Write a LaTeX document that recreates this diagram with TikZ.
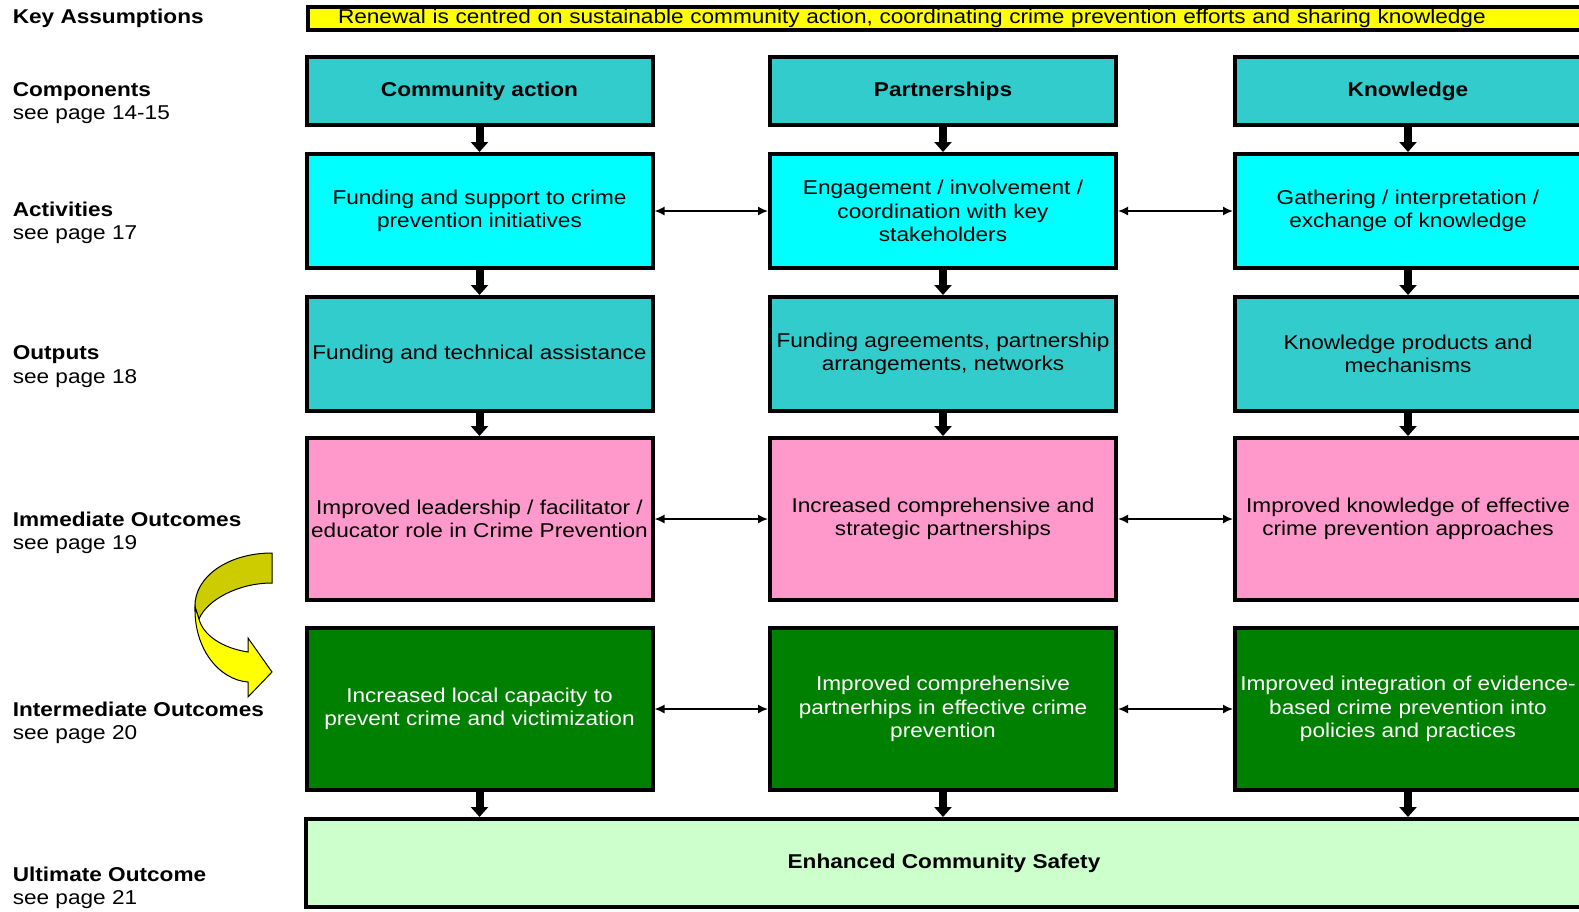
\documentclass[tikz,border=0pt]{standalone}
\usepackage{fontspec}
\setmainfont[FakeStretch=1.13]{Liberation Sans}
\usepackage{tikz}
\usetikzlibrary{arrows.meta}
\usetikzlibrary{positioning}
\definecolor{keyyellow}{HTML}{FFFF00}
\definecolor{compteal}{HTML}{33CCCC}
\definecolor{actcyan}{HTML}{00FFFF}
\definecolor{immpink}{HTML}{FF99CC}
\definecolor{intgreen}{HTML}{008000}
\definecolor{ultgreen}{HTML}{CCFFCC}
\definecolor{ribbondark}{HTML}{CCCC00}
\tikzset{every picture/.style={line width=0.8pt},
  box/.style={draw, line width=2pt, minimum width=173pt, inner sep=2pt, align=center, font=\fontsize{10}{11.6}\selectfont},
  rowlabel/.style={anchor=west, align=left, inner sep=0pt, font=\fontsize{10}{11.6}\selectfont},
  downarr/.style={line width=4pt, -{Triangle[length=5pt,width=8.5pt]}},
  link/.style={line width=0.8pt, {Latex[length=5pt,width=4.5pt]}-{Latex[length=5pt,width=4.5pt]}}}

\begin{document}
\begin{tikzpicture}[x=0.5pt,y=-0.5pt]
\useasboundingbox (0,0) rectangle (1579,911);
% row labels
\node[rowlabel] (lkey) at (12,18) {\textbf{Key Assumptions}};
\node[rowlabel] (lcomp) at (12,103) {\textbf{Components}\\see page 14-15};
\node[rowlabel] (lact) at (12,223) {\textbf{Activities}\\see page 17};
\node[rowlabel] (lout) at (12,366.5) {\textbf{Outputs}\\see page 18};
\node[rowlabel] (limm) at (12,533) {\textbf{Immediate Outcomes}\\see page 19};
\node[rowlabel] (lint) at (12,722.5) {\textbf{Intermediate Outcomes}\\see page 20};
\node[rowlabel] (lult) at (12,888) {\textbf{Ultimate Outcome}\\see page 21};

\node[box, fill=keyyellow, anchor=west, minimum height=11.5pt, text width=620pt, inner xsep=15pt, inner ysep=0pt, align=left] (key) at (306,18.5) {Renewal is centred on sustainable community action, coordinating crime prevention efforts and sharing knowledge};

% components
\node[box, fill=compteal, minimum height=34pt] (c1) at (479.5,91) {\textbf{Community action}};
\node[box, fill=compteal, minimum height=34pt] (c2) at (943,91) {\textbf{Partnerships}};
\node[box, fill=compteal, minimum height=34pt] (c3) at (1408,91) {\textbf{Knowledge}};
% activities
\node[box, fill=actcyan, minimum height=57pt] (a1) at (479.5,211) {Funding and support to crime\\prevention initiatives};
\node[box, fill=actcyan, minimum height=57pt] (a2) at (943,211) {Engagement / involvement /\\coordination with key\\stakeholders};
\node[box, fill=actcyan, minimum height=57pt] (a3) at (1408,211) {Gathering / interpretation /\\exchange of knowledge};
% outputs
\node[box, fill=compteal, minimum height=57pt] (o1) at (479.5,354) {Funding and technical assistance};
\node[box, fill=compteal, minimum height=57pt] (o2) at (943,354) {Funding agreements, partnership\\arrangements, networks};
\node[box, fill=compteal, minimum height=57pt] (o3) at (1408,354) {Knowledge products and\\mechanisms};
% immediate outcomes
\node[box, fill=immpink, minimum height=81pt] (i1) at (479.5,519) {Improved leadership / facilitator /\\educator role in Crime Prevention};
\node[box, fill=immpink, minimum height=81pt] (i2) at (943,519) {Increased comprehensive and\\strategic partnerships};
\node[box, fill=immpink, minimum height=81pt] (i3) at (1408,519) {Improved knowledge of effective\\crime prevention approaches};
% intermediate outcomes
\node[box, fill=intgreen, text=white, minimum height=81pt] (m1) at (479.5,709) {Increased local capacity to\\prevent crime and victimization};
\node[box, fill=intgreen, text=white, minimum height=81pt] (m2) at (943,709) {Improved comprehensive\\partnerhips in effective crime\\prevention};
\node[box, fill=intgreen, text=white, minimum height=81pt] (m3) at (1408,709) {Improved integration of evidence-\\based crime prevention into\\policies and practices};
% ultimate outcome
\node[box, fill=ultgreen, minimum width=638pt, minimum height=44pt] (u) at (944,863) {\textbf{Enhanced Community Safety}};

\draw[downarr] (c1) -- (a1);
\draw[downarr] (c2) -- (a2);
\draw[downarr] (c3) -- (a3);
\draw[downarr] (a1) -- (o1);
\draw[downarr] (a2) -- (o2);
\draw[downarr] (a3) -- (o3);
\draw[downarr] (o1) -- (i1);
\draw[downarr] (o2) -- (i2);
\draw[downarr] (o3) -- (i3);
\draw[downarr] (m1) -- (m1 |- u.north);
\draw[downarr] (m2) -- (m2 |- u.north);
\draw[downarr] (m3) -- (m3 |- u.north);

\draw[link] (a1) -- (a2);
\draw[link] (a2) -- (a3);
\draw[link] (i1) -- (i2);
\draw[link] (i2) -- (i3);
\draw[link] (m1) -- (m2);
\draw[link] (m2) -- (m3);

% curved arrow
\draw[fill=ribbondark, line width=0.5pt] (272,553) .. controls (228,553) and (194,577) .. (195,607) -- (199,619) .. controls (207,600) and (238,583) .. (272,583) -- cycle;
\draw[fill=keyyellow, line width=0.5pt] (195,607) .. controls (194,650) and (220,680) .. (248,682) -- (248,697) -- (272,672) -- (248,638) -- (248,652) .. controls (222,648) and (203,635) .. (199,619) -- cycle;
\end{tikzpicture}
\end{document}
